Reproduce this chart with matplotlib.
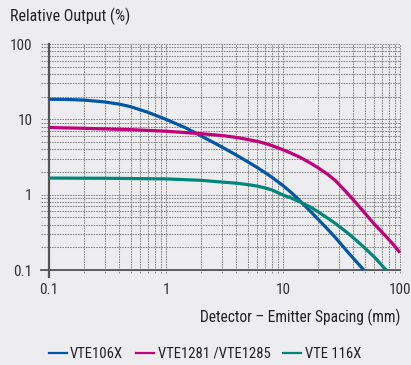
import matplotlib
matplotlib.use("Agg")
import matplotlib.pyplot as plt
from matplotlib import font_manager
from matplotlib.ticker import FixedLocator, NullFormatter

names = {f.name for f in font_manager.fontManager.ttflist}
fam = [n for n in ["Roboto Condensed", "Liberation Sans Narrow", "Liberation Sans"] if n in names] + ["DejaVu Sans"]
plt.rcParams['font.family'] = fam

# ---- data ----
blue_x = [0.1, 0.15, 0.2, 0.3, 0.4, 0.5, 0.7, 1, 1.5, 2, 2.5, 3, 4, 5, 6, 7, 8, 10, 12, 14, 17, 20, 24, 28, 35, 42, 49]
blue_y = [18.5, 18.3, 18.0, 17.0, 15.9, 14.7, 12.4, 10.0, 7.6, 6.0, 5.0, 4.3, 3.35, 2.73, 2.3, 1.97, 1.71, 1.32, 1.04, 0.82, 0.61, 0.47, 0.35, 0.27, 0.18, 0.131, 0.1]

mag_x = [0.1, 0.2, 0.5, 1, 2, 3, 4, 5, 6, 7, 8, 10, 12, 14, 17, 20, 24, 28, 35, 42, 50, 60, 70, 85, 100]
mag_y = [7.8, 7.6, 7.3, 6.95, 6.45, 6.1, 5.75, 5.4, 5.1, 4.8, 4.5, 3.95, 3.5, 3.13, 2.65, 2.27, 1.87, 1.54, 1.07, 0.78, 0.57, 0.41, 0.32, 0.23, 0.17]

teal_x = [0.1, 0.3, 1, 2, 3, 4, 5, 6, 7, 8, 10, 12, 14, 17, 20, 24, 28, 35, 42, 50, 61, 76]
teal_y = [1.66, 1.65, 1.62, 1.55, 1.47, 1.42, 1.36, 1.3, 1.23, 1.16, 0.99, 0.89, 0.8, 0.69, 0.59, 0.49, 0.415, 0.318, 0.25, 0.196, 0.146, 0.1]

series_names = ["VTE106X", "VTE1281 /VTE1285", "VTE 116X"]
colors = ["#0057a8", "#c2007a", "#00877a"]
x_ticks = [0.1, 1, 10, 100]
x_tick_labels = ["0.1", "1", "10", "100"]
y_ticks = [0.1, 1, 10, 100]
y_tick_labels = ["0.1", "1", "10", "100"]

bg = "#ededef"
fig = plt.figure(figsize=(4.11, 3.65), dpi=100, facecolor=bg)
ax = fig.add_axes([49/411, 1-270/365, 351/411, 226/365])
ax.set_facecolor(bg)
ax.set_xscale("log")
ax.set_yscale("log")
ax.set_xlim(0.1, 100)
ax.set_ylim(0.1, 100)

# grid lines (major + minor), extending a little left of the axis
grid_kw = dict(color="#8a8a8a", lw=0.75, linestyle=(0, (1.6, 0.9)), zorder=1)
minor = [m * 10.0**e for e in range(-1, 2) for m in range(2, 10)]
for v in y_ticks + minor:
    ax.plot([-0.022, 1], [v, v], transform=ax.get_yaxis_transform(), clip_on=False, **grid_kw)
for v in x_ticks + minor:
    if v > 0.1:
        ax.plot([v, v], [-0.012, 1], transform=ax.get_xaxis_transform(), clip_on=False, **grid_kw)

for s in ["top", "right", "left", "bottom"]:
    ax.spines[s].set_visible(False)
ax.plot([0, 0], [-0.03, 1], transform=ax.transAxes, clip_on=False, color="#555555", lw=1.6, zorder=2)
ax.plot([-0.022, 1], [0, 0], transform=ax.transAxes, clip_on=False, color="#555555", lw=1.3, zorder=2)

ax.xaxis.set_major_locator(FixedLocator(x_ticks))
ax.yaxis.set_major_locator(FixedLocator(y_ticks))
ax.xaxis.set_minor_formatter(NullFormatter())
ax.yaxis.set_minor_formatter(NullFormatter())
ax.set_xticklabels(x_tick_labels)
ax.set_yticklabels(y_tick_labels)
ax.tick_params(which="both", length=0)
ax.tick_params(axis="y", pad=12, labelsize=11, labelcolor="#333333")
ax.tick_params(axis="x", pad=9, labelsize=11, labelcolor="#333333")

handles = []
for xs, ys, c, n in zip([blue_x, mag_x, teal_x], [blue_y, mag_y, teal_y], colors, series_names):
    ax.plot(xs, ys, color=c, lw=2.3, solid_capstyle="butt", solid_joinstyle="round", zorder=3, clip_on=False)
    h, = ax.plot([], [], color=c, lw=1.6, label=n)
    handles.append(h)

fig.text(10/411, 1-16/365, "Relative Output (%)", fontsize=11.5, color="#222222", va="center", ha="left")
fig.text(400/411, 1-317/365, "Detector \u2013 Emitter Spacing (mm)", fontsize=11.2, color="#222222", va="center", ha="right")

fig.legend(handles=handles, loc="center left", bbox_to_anchor=(49/411, 1-354/365), ncol=3,
           frameon=False, fontsize=10.5, handlelength=1.2, handletextpad=0.25, columnspacing=0.9,
           labelcolor="#222222", borderaxespad=0, borderpad=0)

fig.savefig("out.png", dpi=100, facecolor=bg)
